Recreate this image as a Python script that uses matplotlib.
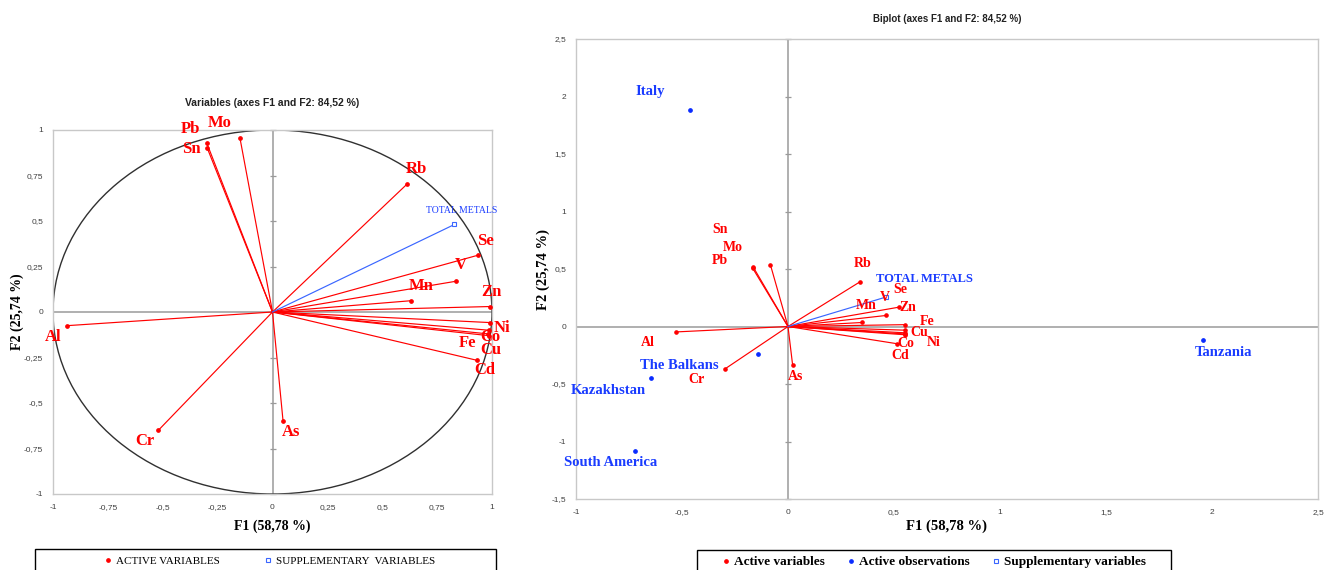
import matplotlib
matplotlib.use("Agg")
import matplotlib.pyplot as plt
from matplotlib.patches import Circle, Rectangle
from matplotlib.lines import Line2D

# ---------------- data ----------------
var_names = ['Pb', 'Sn', 'Mo', 'Rb', 'Se', 'V', 'Mn', 'Zn', 'Ni', 'Fe', 'Co', 'Cu', 'Cd', 'Al', 'Cr', 'As']
# correlation circle coordinates
circ_f1 = [-0.300, -0.298, -0.148, 0.614, 0.936, 0.836, 0.631, 0.990, 0.990, 0.985, 0.980, 0.985, 0.930, -0.935, -0.520, 0.048]
circ_f2 = [0.930, 0.903, 0.954, 0.704, 0.312, 0.169, 0.062, 0.030, -0.058, -0.100, -0.120, -0.130, -0.265, -0.075, -0.650, -0.598]
# biplot coordinates of the variables
bi_f1 = [-0.167, -0.165, -0.083, 0.340, 0.523, 0.463, 0.351, 0.551, 0.553, 0.553, 0.553, 0.553, 0.515, -0.526, -0.295, 0.022]
bi_f2 = [0.508, 0.520, 0.537, 0.389, 0.168, 0.096, 0.035, 0.016, -0.032, -0.055, -0.065, -0.072, -0.150, -0.047, -0.366, -0.338]

sup_name = 'TOTAL METALS'
sup_circ = (0.829, 0.481)
sup_bi = (0.460, 0.255)

obs_names = ['Italy', 'The Balkans', 'Kazakhstan', 'South America', 'Tanzania']
obs_f1 = [-0.462, -0.143, -0.648, -0.723, 1.956]
obs_f2 = [1.883, -0.238, -0.450, -1.081, -0.118]

left_ticks = [-1, -0.75, -0.5, -0.25, 0, 0.25, 0.5, 0.75, 1]
left_ticklabels = ['-1', '-0,75', '-0,5', '-0,25', '0', '0,25', '0,5', '0,75', '1']
right_xticks = [-1, -0.5, 0, 0.5, 1, 1.5, 2, 2.5]
right_xticklabels = ['-1', '-0,5', '0', '0,5', '1', '1,5', '2', '2,5']
right_yticks = [-1.5, -1, -0.5, 0, 0.5, 1, 1.5, 2, 2.5]
right_yticklabels = ['-1,5', '-1', '-0,5', '0', '0,5', '1', '1,5', '2', '2,5']

# label offsets (pixels) -- layout only
circ_off = {'Pb': (-16, 14), 'Mo': (-20, 15), 'Sn': (-16, -1), 'Rb': (9, 15), 'Se': (7, 14),
            'V': (5, 16), 'Mn': (10, 15), 'Zn': (2, 15), 'Ni': (12, -5), 'Fe': (-21, -13),
            'Co': (3, -3), 'Cu': (2, -14), 'Cd': (8, -10), 'Al': (-14, -11), 'Cr': (-14, -11),
            'As': (8, -11)}
bi_off = {'Pb': (-33, 8), 'Sn': (-33, 37), 'Mo': (-38, 17), 'Rb': (3, 18), 'Se': (1, 18),
          'V': (-1, 18), 'Mn': (4, 17), 'Zn': (3, 17), 'Ni': (28, -12), 'Fe': (22, 11),
          'Co': (1, -10), 'Cu': (14, 2), 'Cd': (3, -12), 'Al': (-29, -11), 'Cr': (-29, -11),
          'As': (3, -11)}
obs_off = {'Italy': (-40, 18), 'The Balkans': (-78, -12), 'Kazakhstan': (-42, -12),
           'South America': (-24, -12), 'Tanzania': (21, -12)}

RED = '#ff0000'
BLUE_LINE = '#3a66ff'
BLUE_TXT = '#1a3cff'
SERIF = 'Liberation Serif'
SANS = 'Liberation Sans'

W, H = 1333, 570
fig = plt.figure(figsize=(W / 100, H / 100), dpi=100)


def fax(x0, x1, ytop, ybot):
    return fig.add_axes([x0 / W, 1 - ybot / H, (x1 - x0) / W, (ybot - ytop) / H])


def style(ax, xt, xtl, yt, ytl):
    for s in ax.spines.values():
        s.set_color('#c8c8c8')
        s.set_linewidth(1.0)
    ax.set_xticks(xt)
    ax.set_xticklabels(xtl)
    ax.set_yticks(yt)
    ax.set_yticklabels(ytl)
    ax.tick_params(length=0, labelsize=6, colors='#404040', pad=7)
    for lab in ax.get_xticklabels() + ax.get_yticklabels():
        lab.set_family(SANS)
    ax.axhline(0, color='#9a9a9a', lw=1.1, zorder=1)
    ax.axvline(0, color='#9a9a9a', lw=1.1, zorder=1)
    ax.plot([0] * len(yt), yt, ls='none', marker='_', ms=4.5, color='#9a9a9a', mew=0.9, zorder=1, clip_on=False)


# ---------------- left: correlation circle ----------------
ax1 = fax(53, 492, 130, 494)
ax1.set_xlim(-1, 1)
ax1.set_ylim(-1, 1)
style(ax1, left_ticks, left_ticklabels, left_ticks, left_ticklabels)
ax1.add_patch(Circle((0, 0), 1, fill=False, ec='#303030', lw=1.0, zorder=2))
for n, x, y in zip(var_names, circ_f1, circ_f2):
    ax1.plot([0, x], [0, y], color=RED, lw=0.85, zorder=3)
    ax1.plot([x], [y], 'o', color=RED, ms=2.4, zorder=4)
    dx, dy = circ_off[n]
    ax1.annotate(n, (x, y), xytext=(dx, dy), textcoords='offset pixels', ha='center', va='center',
                 color=RED, fontsize=12, fontweight='bold', family=SERIF, zorder=5)
ax1.plot([0, sup_circ[0]], [0, sup_circ[1]], color=BLUE_LINE, lw=0.85, zorder=3)
ax1.plot([sup_circ[0]], [sup_circ[1]], 's', mfc='white', mec=BLUE_LINE, ms=3, mew=0.8, zorder=4)
ax1.annotate(sup_name, sup_circ, xytext=(7, 14), textcoords='offset pixels', ha='center', va='center',
             color=BLUE_TXT, fontsize=7, family=SERIF, zorder=5)
ax1.set_title('Variables (axes F1 and F2: 84,52 %)', fontsize=7.5, fontweight='bold',
              family=SANS, pad=17, color='#222222')
ax1.set_xlabel('F1 (58,78 %)', fontsize=10, fontweight='bold', family=SERIF, labelpad=6)
ax1.set_ylabel('F2 (25,74 %)', fontsize=10, fontweight='bold', family=SERIF, labelpad=0)

# ---------------- right: biplot ----------------
ax2 = fax(576, 1318, 39, 499)
ax2.set_xlim(-1, 2.5)
ax2.set_ylim(-1.5, 2.5)
style(ax2, right_xticks, right_xticklabels, right_yticks, right_yticklabels)
for n, x, y in zip(var_names, bi_f1, bi_f2):
    ax2.plot([0, x], [0, y], color=RED, lw=0.85, zorder=3)
    ax2.plot([x], [y], 'o', color=RED, ms=2.3, zorder=4)
    dx, dy = bi_off[n]
    ax2.annotate(n, (x, y), xytext=(dx, dy), textcoords='offset pixels', ha='center', va='center',
                 color=RED, fontsize=10, fontweight='bold', family=SERIF, zorder=5)
ax2.plot([0, sup_bi[0]], [0, sup_bi[1]], color=BLUE_LINE, lw=0.85, zorder=3)
ax2.plot([sup_bi[0]], [sup_bi[1]], 's', mfc='white', mec=BLUE_LINE, ms=3, mew=0.8, zorder=4)
ax2.annotate(sup_name, sup_bi, xytext=(39, 18), textcoords='offset pixels', ha='center', va='center',
             color=BLUE_TXT, fontsize=9, family=SERIF, fontweight='bold', zorder=5)
ax2.plot(obs_f1, obs_f2, 'o', color='#0a2cff', ms=2.4, ls='none', zorder=4)
for n, x, y in zip(obs_names, obs_f1, obs_f2):
    dx, dy = obs_off[n]
    ax2.annotate(n, (x, y), xytext=(dx, dy), textcoords='offset pixels', ha='center', va='center',
                 color=BLUE_TXT, fontsize=10.5, fontweight='bold', family=SERIF, zorder=5)
ax2.set_title('Biplot (axes F1 and F2: 84,52 %)', fontsize=7, fontweight='bold',
              family=SANS, pad=12, color='#222222')
ax2.set_xlabel('F1 (58,78 %)', fontsize=10.5, fontweight='bold', family=SERIF, labelpad=3)
ax2.set_ylabel('F2 (25,74 %)', fontsize=10.5, fontweight='bold', family=SERIF, labelpad=1)

# ---------------- legends ----------------
h_act = Line2D([], [], ls='none', marker='o', color=RED, ms=2.4)
h_obs = Line2D([], [], ls='none', marker='o', color='#0a2cff', ms=2.4)
h_sup = Line2D([], [], ls='none', marker='s', mfc='white', mec=BLUE_LINE, ms=3, mew=0.8)

fig.add_artist(Rectangle((35 / W, -0.05), (496 - 35) / W, 0.05 + 1 - 549 / H, transform=fig.transFigure,
                         fill=False, ec='black', lw=1.0))
fig.legend([h_act, h_sup], ['ACTIVE VARIABLES', 'SUPPLEMENTARY  VARIABLES'], loc='center',
           bbox_to_anchor=(270 / W, 1 - 561 / H), ncol=2, frameon=False, handlelength=0.6,
           handletextpad=0.4, columnspacing=4.0, prop={'family': SERIF, 'size': 8})

fig.add_artist(Rectangle((697 / W, -0.05), (1171 - 697) / W, 0.05 + 1 - 550 / H, transform=fig.transFigure,
                         fill=False, ec='black', lw=1.0))
fig.legend([h_act, h_obs, h_sup], ['Active variables', 'Active observations', 'Supplementary variables'],
           loc='center', bbox_to_anchor=(934 / W, 1 - 562 / H), ncol=3, frameon=False, handlelength=0.6,
           handletextpad=0.3, columnspacing=1.7, prop={'family': SERIF, 'size': 9.5, 'weight': 'bold'})

fig.savefig('out.png', dpi=100)
